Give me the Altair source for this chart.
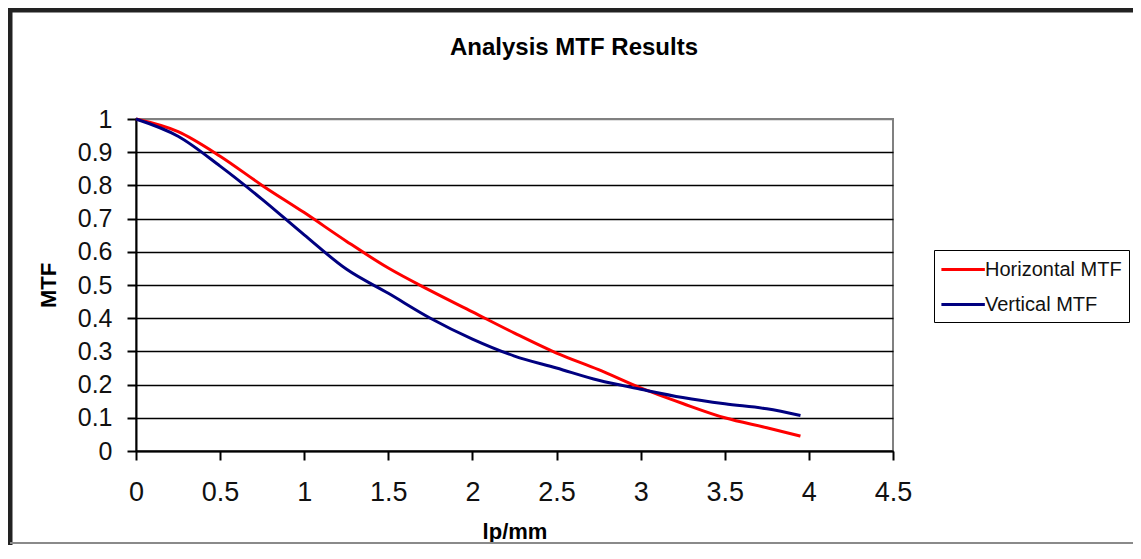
import altair as alt
import pandas as pd

# ---- data ----
freq = [0, 0.25, 0.5, 0.75, 1.0, 1.25, 1.5, 1.75, 2.0, 2.25, 2.5, 2.75, 3.0, 3.25, 3.5, 3.75, 3.95]
horizontal_mtf = [1.0, 0.962, 0.888, 0.800, 0.718, 0.632, 0.551, 0.483, 0.419, 0.355, 0.295, 0.245, 0.190, 0.143, 0.100, 0.070, 0.045]
vertical_mtf = [1.0, 0.948, 0.858, 0.758, 0.651, 0.548, 0.475, 0.400, 0.337, 0.286, 0.250, 0.213, 0.186, 0.161, 0.142, 0.127, 0.107]
series_names = ["Horizontal MTF", "Vertical MTF"]
series_colors = ["#ff0000", "#000080"]
x_ticks = [0, 0.5, 1, 1.5, 2, 2.5, 3, 3.5, 4, 4.5]
y_ticks = [0, 0.1, 0.2, 0.3, 0.4, 0.5, 0.6, 0.7, 0.8, 0.9, 1]
chart_title = "Analysis MTF Results"
x_title = "lp/mm"
y_title = "MTF"

rows = []
for f, h in zip(freq, horizontal_mtf):
    rows.append({"lpmm": f, "mtf": h, "series": series_names[0]})
for f, v in zip(freq, vertical_mtf):
    rows.append({"lpmm": f, "mtf": v, "series": series_names[1]})
df = pd.DataFrame(rows)
one = pd.DataFrame({"k": [0]})

FONT = "Liberation Sans"
W, H = 757, 332

lines = alt.Chart(df).mark_line(strokeWidth=3, interpolate="monotone").encode(
    x=alt.X(
        "lpmm:Q",
        scale=alt.Scale(domain=[0, 4.5], nice=False, zero=False),
        axis=alt.Axis(
            values=x_ticks, format=".1~f", title=x_title, grid=False,
            labelFont=FONT, labelFontSize=27, labelColor="#111", labelPadding=19,
            labelFlush=False, labelOverlap=False, labelBound=False,
            tickSize=9, tickWidth=2, tickColor="black",
            domainColor="black", domainWidth=2,
            titleFont=FONT, titleFontSize=22, titleFontWeight="bold", titleColor="black",
            titleX=W / 2, titleY=87, titleBaseline="alphabetic", titleAlign="center",
        ),
    ),
    y=alt.Y(
        "mtf:Q",
        scale=alt.Scale(domain=[0, 1], nice=False),
        axis=alt.Axis(
            values=y_ticks, format=".1~f", title=y_title, grid=True,
            gridColor=alt.condition("datum.value >= 1", alt.value("#808080"), alt.value("black")),
            gridWidth=1.7, gridOpacity=1,
            labelFont=FONT, labelFontSize=25, labelColor="#111", labelPadding=15,
            labelFlush=False, labelOverlap=False, labelBound=False,
            tickSize=9, tickWidth=2, tickColor="black",
            domainColor="black", domainWidth=2,
            titleFont=FONT, titleFontSize=22, titleFontWeight="bold", titleColor="black",
            titleX=-81, titleY=H / 2, titleAngle=-90, titleBaseline="alphabetic", titleAlign="center",
        ),
    ),
    color=alt.Color(
        "series:N",
        scale=alt.Scale(domain=series_names, range=series_colors),
        legend=alt.Legend(
            title=None, orient="none", legendX=798, legendY=131,
            direction="vertical",
            strokeColor="black", padding=7, fillColor="white",
            labelFont=FONT, labelFontSize=20, labelColor="#111", labelOffset=19,
            symbolType="M-1.1,0L2.85,0", symbolSize=484, symbolStrokeWidth=3,
            rowPadding=12,
        ),
    ),
)

title_mark = alt.Chart(one).mark_text(
    font=FONT, fontSize=24, fontWeight="bold", align="center",
    baseline="alphabetic", color="black",
).encode(x=alt.value(438), y=alt.value(-64), text=alt.value(chart_title))

frame_top = alt.Chart(one).mark_rule(color="#222222", strokeWidth=5).encode(
    x=alt.value(-129), x2=alt.value(1000), y=alt.value(-109)
)
frame_left = alt.Chart(one).mark_rule(color="#222222", strokeWidth=5).encode(
    x=alt.value(-126), y=alt.value(-111), y2=alt.value(426)
)
frame_bottom = alt.Chart(one).mark_rule(color="#8a8a8a", strokeWidth=2).encode(
    x=alt.value(-126), x2=alt.value(1000), y=alt.value(424)
)

chart = alt.layer(lines, title_mark, frame_top, frame_left, frame_bottom).properties(
    width=W, height=H,
    autosize=alt.AutoSizeParams(type="none"),
    padding={"left": 128, "top": 111, "right": 240, "bottom": 94},
    background="white",
).configure_view(stroke="#808080", strokeWidth=2)

chart.save("out.html", embed_options={"renderer": "svg", "actions": False})
